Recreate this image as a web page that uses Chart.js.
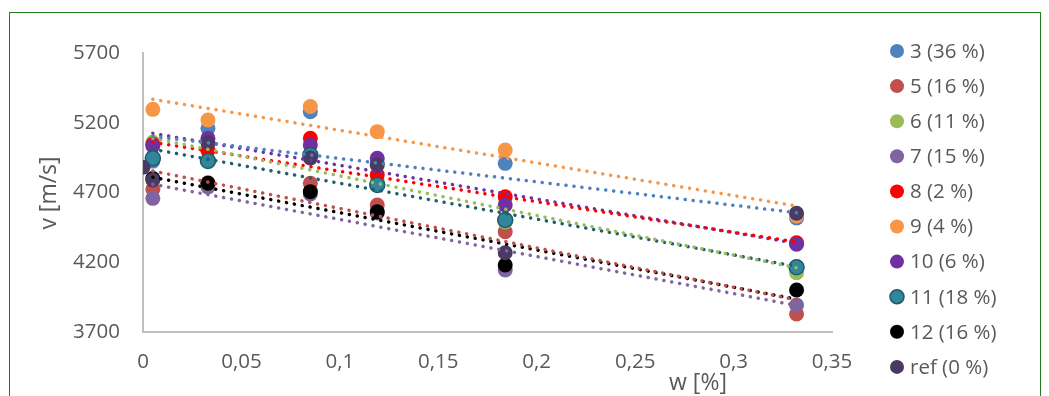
<!DOCTYPE html>
<html><head><meta charset="utf-8">
<script src="https://cdn.jsdelivr.net/npm/chart.js@4/dist/chart.umd.min.js"></script>
<style>
html,body{margin:0;padding:0;background:#fff;overflow:hidden}
#wrap{position:relative;width:1049px;height:396px}
#frame{position:absolute;left:9px;top:12px;width:1032px;height:430px;border:1.5px solid #1E7B1E;box-sizing:border-box;pointer-events:none}
canvas{position:absolute;left:0;top:0}
</style></head><body>
<div id="wrap"><canvas id="c" width="1049" height="396"></canvas><div id="frame"></div></div>
<script>
// ---- data ----
const seriesNames = ['3 (36 %)','5 (16 %)','6 (11 %)','7 (15 %)','8 (2 %)','9 (4 %)','10 (6 %)','11 (18 %)','12 (16 %)','ref (0 %)'];
const wValues = [0.005, 0.033, 0.085, 0.119, 0.184, 0.332];
const v3  = [4925, 5160, 5279, 4910, 4909, 4517];
const v5  = [4723, 4770, 4766, 4610, 4419, 3829];
const v6  = [5060, 5000, 4960, 4777, 4489, 4125];
const v7  = [4658, 4740, 4690, 4553, 4145, 3894];
const v8  = [5045, 5005, 5089, 4826, 4670, 4340];
const v9  = [5296, 5220, 5316, 5136, 5005, 4532];
const v10 = [5033, 5089, 5041, 4945, 4610, 4329];
const v11 = [4945, 4926, 4969, 4754, 4503, 4164];
const v12 = [4800, 4766, 4706, 4562, 4180, 4001];
const wRef = [0, 0.005, 0.033, 0.085, 0.119, 0.184, 0.332];
const vRef = [4881, 4790, 5057, 4947, 4897, 4268, 4551];
// linear trendlines: value at first and last w
const trendW = [0.005, 0.332];
const t3  = [5103, 4555];
const t5  = [4854, 3930];
const t6  = [5089, 4160];
const t7  = [4759, 3890];
const t8  = [5060, 4345];
const t9  = [5368, 4603];
const t10 = [5124, 4335];
const t11 = [5010, 4170];
const t12 = [4809, 3935];
const yTicks = [3700, 4200, 4700, 5200, 5700];
const yTickLabels = ['3700','4200','4700','5200','5700'];
const xTicks = [0, 0.05, 0.1, 0.15, 0.2, 0.25, 0.3, 0.35];
const xTickLabels = ['0','0,05','0,1','0,15','0,2','0,25','0,3','0,35'];
const xTitle = 'w [%]';
const yTitle = 'v [m/s]';

// ---- styles ----
const colors = ['#4F81BD','#C0504D','#9BBB59','#8064A2','#FF0000','#F79646','#7030A0','#31859C','#000000','#4A3961'];
const edgeColors = [null,null,null,null,null,null,null,'#215968',null,null];
const trendColors = ['#4F81BD','#C0504D','#9BBB59','#8064A2','#FF0000','#F79646','#7030A0','#215F6C','#000000',null];
const FONT = "'Open Sans', sans-serif";
const TXT = '#595959';

const seriesW = [wValues,wValues,wValues,wValues,wValues,wValues,wValues,wValues,wValues,wRef];
const seriesV = [v3,v5,v6,v7,v8,v9,v10,v11,v12,vRef];
const trends = [t3,t5,t6,t7,t8,t9,t10,t11,t12,null];

const datasets = [];
seriesNames.forEach((name, i) => {
  datasets.push({
    label: name,
    data: seriesW[i].map((w, j) => ({x: w, y: seriesV[i][j]})),
    showLine: false,
    pointRadius: 7.5,
    pointBackgroundColor: colors[i],
    pointBorderColor: edgeColors[i] || colors[i],
    pointBorderWidth: edgeColors[i] ? 1.5 : 0,
    backgroundColor: colors[i],
    borderColor: edgeColors[i] || colors[i],
    order: 100 - i,
    isMarker: true
  });
});
trends.forEach((t, i) => {
  if (!t) return;
  datasets.push({
    label: seriesNames[i] + ' trend',
    data: trendW.map((w, j) => ({x: w, y: t[j]})),
    showLine: true,
    pointRadius: 0,
    borderColor: trendColors[i],
    borderWidth: 3.5,
    borderDash: [0.1, 7.9],
    borderCapStyle: 'round',
    fill: false,
    order: 0
  });
});

const overlay = {
  id: 'overlay',
  afterDraw(chart) {
    const ctx = chart.ctx;
    ctx.save();
    ctx.fillStyle = TXT;
    // y title
    ctx.font = '23px ' + FONT;
    ctx.textAlign = 'center';
    ctx.textBaseline = 'middle';
    ctx.save();
    ctx.translate(49, 193);
    ctx.rotate(-Math.PI / 2);
    ctx.fillText(yTitle, 0, 0);
    ctx.restore();
    // x title
    ctx.fillText(xTitle, 698, 383);
    // legend
    ctx.font = '20.5px ' + FONT;
    ctx.textAlign = 'left';
    chart.data.datasets.filter(d => d.isMarker).forEach((d, i) => {
      const y = 51 + i * 35.1;
      ctx.beginPath();
      ctx.arc(897, y, 7, 0, Math.PI * 2);
      ctx.fillStyle = d.pointBackgroundColor;
      ctx.fill();
      if (d.pointBorderWidth) {
        ctx.lineWidth = 1.5;
        ctx.strokeStyle = d.pointBorderColor;
        ctx.stroke();
      }
      ctx.fillStyle = TXT;
      ctx.fillText(d.label, 910, y + 1);
    });
    ctx.restore();
  }
};

new Chart(document.getElementById('c'), {
  type: 'scatter',
  data: { datasets },
  options: {
    responsive: false,
    devicePixelRatio: 1,
    animation: false,
    events: [],
    layout: { padding: { top: 53, right: 217, left: 0, bottom: 0 } },
    plugins: { legend: { display: false }, tooltip: { enabled: false } },
    scales: {
      x: {
        type: 'linear', min: 0, max: 0.35,
        afterBuildTicks: s => { s.ticks = xTicks.map(v => ({value: v})); },
        afterFit: s => { s.height = 64; },
        ticks: { callback: (v, i) => xTickLabels[i], font: { family: FONT, size: 20.5 }, color: TXT, padding: 18, maxRotation: 0, autoSkip: false },
        grid: { display: false, drawTicks: false },
        border: { color: '#BFBFBF', width: 2 }
      },
      y: {
        min: 3700, max: 5700,
        afterBuildTicks: s => { s.ticks = yTicks.map(v => ({value: v})); },
        afterFit: s => { s.width = 143; },
        ticks: { callback: (v, i) => yTickLabels[i], font: { family: FONT, size: 20.5 }, color: TXT, padding: 23 },
        grid: { display: false, drawTicks: false },
        border: { color: '#BFBFBF', width: 2 }
      }
    }
  },
  plugins: [overlay]
});
</script>
</body></html>
